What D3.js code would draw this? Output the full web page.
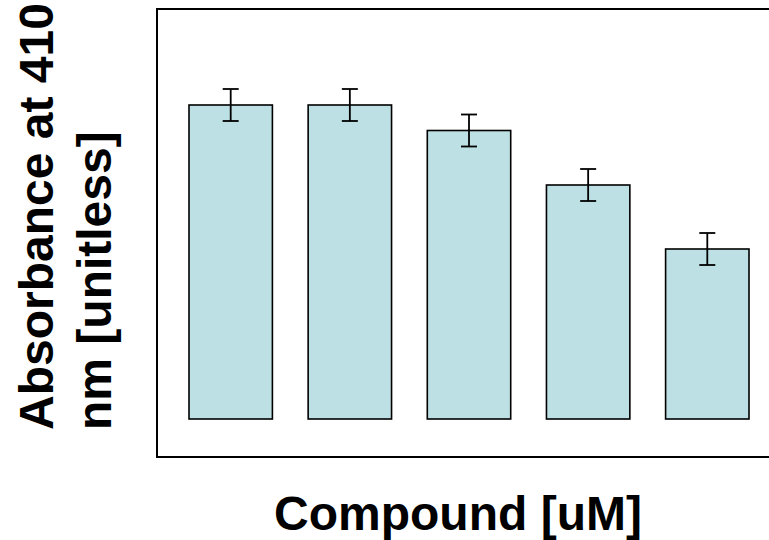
<!DOCTYPE html>
<html>
<head>
<meta charset="utf-8">
<script src="https://cdn.jsdelivr.net/npm/d3@7"></script>
<style>
  html, body { margin: 0; padding: 0; background: #ffffff; }
  svg { display: block; }
</style>
</head>
<body>
<div id="chart"></div>
<script>
// ---- data ----
const categories = ["C1", "C2", "C3", "C4", "C5"];
const values = [0.628, 0.628, 0.577, 0.468, 0.340];
const errors = [0.032, 0.032, 0.032, 0.032, 0.032];
const yTitleLines = ["Absorbance at 410", "nm [unitless]"];
const xTitle = "Compound [uM]";

// ---- layout ----
const W = 769, H = 540;
const svg = d3.select("#chart").append("svg")
  .attr("width", W).attr("height", H)
  .style("font-family", "'Liberation Sans', Arial, sans-serif");

svg.append("rect").attr("width", W).attr("height", H).attr("fill", "#ffffff");

// plot frame
const frame = { left: 157, top: 9, right: 772, bottom: 457 };
svg.append("rect")
  .attr("x", frame.left).attr("y", frame.top)
  .attr("width", frame.right - frame.left)
  .attr("height", frame.bottom - frame.top)
  .attr("fill", "none").attr("stroke", "#000").attr("stroke-width", 2);

const y = d3.scaleLinear().domain([0, 0.82]).range([419, 9]);
const x = d3.scaleBand().domain(categories).range([189, 749])
  .paddingInner(0.3).paddingOuter(0);

const g = svg.append("g");
g.selectAll("rect.bar").data(categories).enter().append("rect")
  .attr("class", "bar")
  .attr("x", d => x(d))
  .attr("y", (d, i) => y(values[i]))
  .attr("width", x.bandwidth())
  .attr("height", (d, i) => y(0) - y(values[i]))
  .attr("fill", "#bce0e3")
  .attr("stroke", "#000").attr("stroke-width", 1.6);

// error bars
const capHalf = 8;
const eb = g.selectAll("g.err").data(categories).enter().append("g").attr("class", "err");
eb.append("line")
  .attr("x1", d => x(d) + x.bandwidth() / 2).attr("x2", d => x(d) + x.bandwidth() / 2)
  .attr("y1", (d, i) => y(values[i] + errors[i])).attr("y2", (d, i) => y(values[i] - errors[i]))
  .attr("stroke", "#000").attr("stroke-width", 1.8);
eb.append("line")
  .attr("x1", d => x(d) + x.bandwidth() / 2 - capHalf).attr("x2", d => x(d) + x.bandwidth() / 2 + capHalf)
  .attr("y1", (d, i) => y(values[i] + errors[i])).attr("y2", (d, i) => y(values[i] + errors[i]))
  .attr("stroke", "#000").attr("stroke-width", 1.8);
eb.append("line")
  .attr("x1", d => x(d) + x.bandwidth() / 2 - capHalf).attr("x2", d => x(d) + x.bandwidth() / 2 + capHalf)
  .attr("y1", (d, i) => y(values[i] - errors[i])).attr("y2", (d, i) => y(values[i] - errors[i]))
  .attr("stroke", "#000").attr("stroke-width", 1.8);

// y title (two lines, rotated, start-anchored at bottom)
const yt = svg.append("text")
  .attr("transform", "translate(0,430) rotate(-90)")
  .attr("text-anchor", "start")
  .attr("font-size", 48).attr("font-weight", "bold").attr("fill", "#000");
yt.selectAll("tspan").data(yTitleLines).enter().append("tspan")
  .attr("x", 0)
  .attr("y", (d, i) => 53 + i * 58)
  .text(d => d);

// x title
svg.append("text")
  .attr("x", 458).attr("y", 530)
  .attr("text-anchor", "middle")
  .attr("font-size", 48).attr("font-weight", "bold").attr("fill", "#000")
  .text(xTitle);
</script>
</body>
</html>
